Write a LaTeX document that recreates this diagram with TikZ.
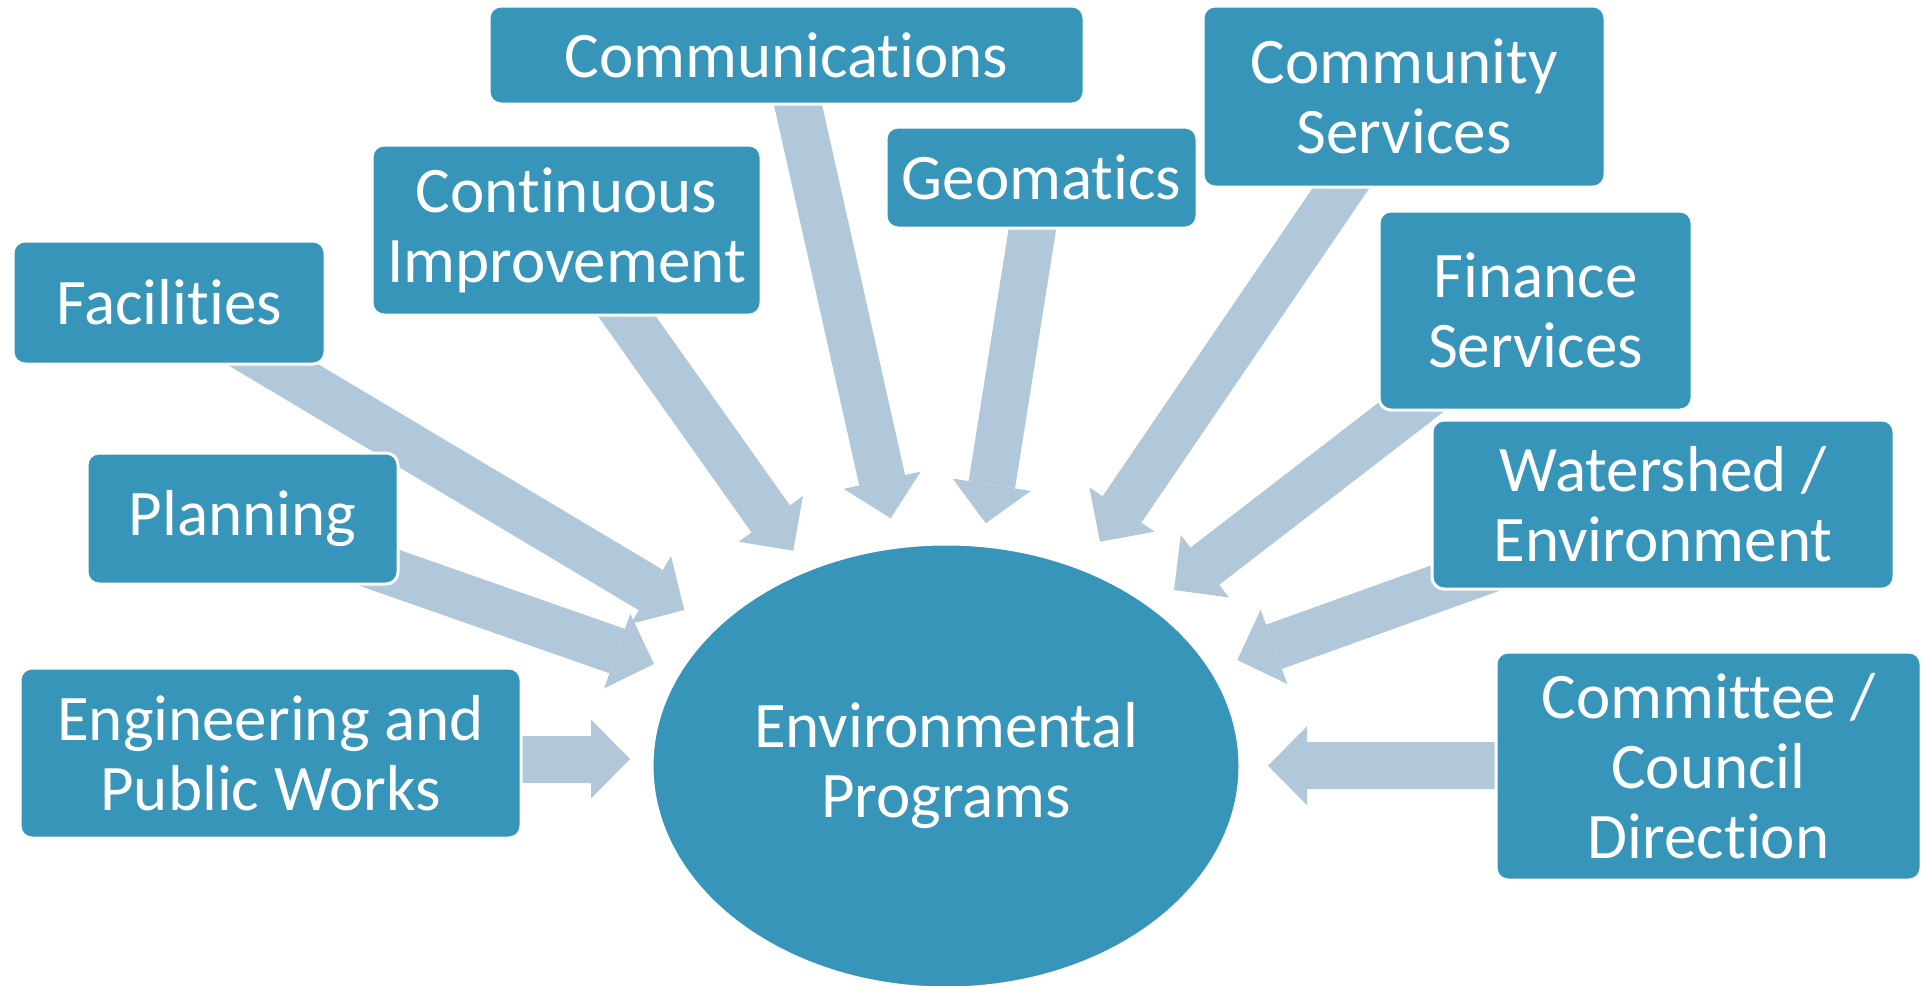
\documentclass[tikz,border=0pt]{standalone}
\usepackage{fontspec}
\setmainfont{Carlito}[Ligatures={NoCommon,NoRequired,NoContextual},RawFeature={-liga;-clig;-calt;-dlig}]
\usetikzlibrary{arrows.meta,shapes.geometric,calc}
\definecolor{boxblue}{HTML}{3795BA}
\definecolor{arrowblue}{HTML}{B0C8DA}
\pgfdeclarelayer{bg}
\pgfsetlayers{bg,main}
\begin{document}
\begin{tikzpicture}[x=1pt,y=-1pt,
  box/.style={draw=white, line width=3pt, fill=boxblue, rounded corners=12pt,
    text=white, align=center, font=\fontsize{65}{70}\selectfont, inner sep=0pt},
  hub/.style={ellipse, draw=white, line width=3pt, fill=boxblue,
    text=white, align=center, font=\fontsize{65}{70}\selectfont, inner sep=0pt},
  arr/.style={draw=arrowblue, line width=47pt, line cap=butt,
    -{Triangle[length=39pt,width=79pt,line width=0pt]}}
]
\useasboundingbox (0,0) rectangle (1921,985);

% central hub
\node[hub, minimum width=588pt, minimum height=444pt] (env) at (946,766) {Environmental\\Programs};

% boxes
\node[box, minimum width=595pt, minimum height=98pt]  (comm)  at (786.5,55)    {Communications};
\node[box, minimum width=389pt, minimum height=170pt] (cont)  at (566.5,230)   {Continuous\\Improvement};
\node[box, minimum width=312pt, minimum height=123pt] (fac)   at (169,302.5)   {Facilities};
\node[box, minimum width=311pt, minimum height=131pt] (plan)  at (242.5,518.5) {Planning};
\node[box, minimum width=501pt, minimum height=170pt] (eng)   at (270.5,753)   {Engineering and\\Public Works};
\node[box, minimum width=311pt, minimum height=101pt] (geo)   at (1041.5,177.5){Geomatics};
\node[box, minimum width=402pt, minimum height=181pt] (csvc)  at (1404,96.5)   {Community\\Services};
\node[box, minimum width=313pt, minimum height=199pt] (fin)   at (1535.5,310.5){Finance\\Services};
\node[box, minimum width=462pt, minimum height=169pt] (wat)   at (1663,504.5)  {Watershed /\\Environment};
\node[box, minimum width=425pt, minimum height=228pt] (cmt)   at (1708.5,766)  {Committee /\\Council\\Direction};

% arrow start (inside each box) and tip coordinates
\coordinate (sComm) at (798.7,108);   \coordinate (tComm) at (890.7,518.3);
\coordinate (sCont) at (628.5,318.5); \coordinate (tCont) at (793.3,550.7);
\coordinate (sFac)  at (276.5,366.7); \coordinate (tFac)  at (684.3,610);
\coordinate (sPlan) at (382.8,569);   \coordinate (tPlan) at (654,664);
\coordinate (sEng)  at (500,759);     \coordinate (tEng)  at (630,759);
\coordinate (sGeo)  at (1032,231.5);  \coordinate (tGeo)  at (985.7,523.3);
\coordinate (sCsvc) at (1339,191);    \coordinate (tCsvc) at (1100,541.7);
\coordinate (sFin)  at (1410,408);    \coordinate (tFin)  at (1174,590);
\coordinate (sWat)  at (1462.7,579);  \coordinate (tWat)  at (1237.3,660);
\coordinate (sCmt)  at (1520,765.7);  \coordinate (tCmt)  at (1268,765.7);

\begin{pgfonlayer}{bg}
  \foreach \n in {Comm,Cont,Fac,Plan,Eng,Geo,Csvc,Fin,Wat,Cmt}{
    \draw[arr] ($(s\n)!-45pt!(t\n)$) -- (t\n);
  }
\end{pgfonlayer}
\end{tikzpicture}
\end{document}
